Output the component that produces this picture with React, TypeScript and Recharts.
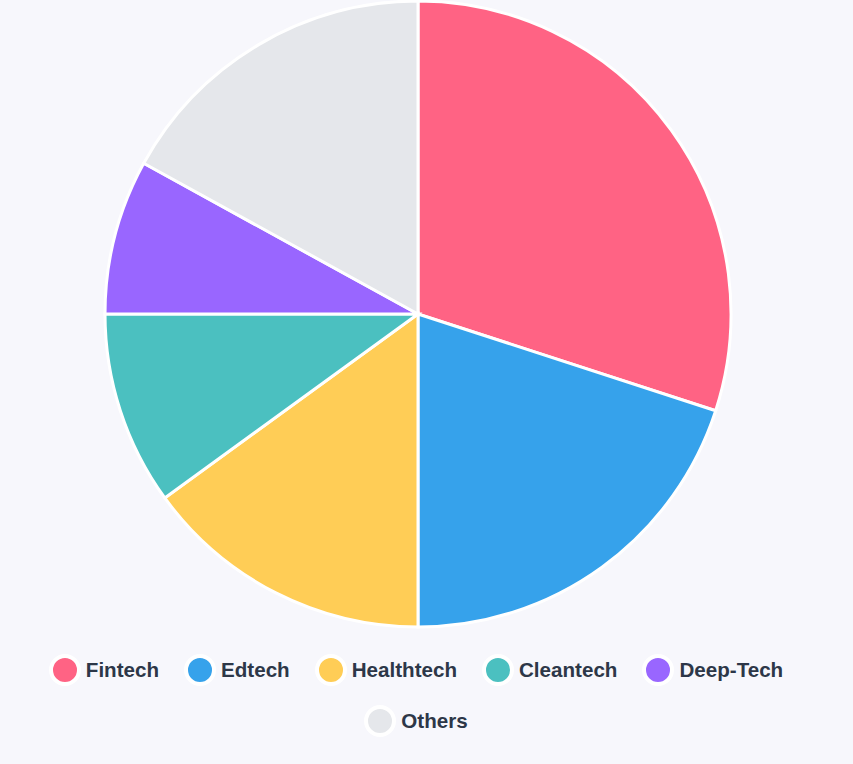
import React from "react";
import { PieChart, Pie, Cell, Legend } from "recharts";

const categories = ["Fintech", "Edtech", "Healthtech", "Cleantech", "Deep-Tech", "Others"];
const shares = [30, 20, 15, 10, 8, 17];
const colors = ["#ff6384", "#36a2eb", "#ffcd56", "#4bc0c0", "#9966ff", "#e5e7eb"];

const data = categories.map((name, i) => ({ name, value: shares[i] }));

const LegendContent = () => (
  <div
    style={{
      display: "flex",
      flexWrap: "wrap",
      justifyContent: "center",
      rowGap: 19,
      columnGap: 25,
      width: 780,
      fontFamily: "'Liberation Sans', Arial, sans-serif",
      fontWeight: 700,
      fontSize: 20.6,
      color: "#2d3748",
    }}
  >
    {categories.map((c, i) => (
      <div key={c} style={{ display: "flex", alignItems: "center", height: 32 }}>
        <span
          style={{
            display: "inline-block",
            boxSizing: "border-box",
            width: 32,
            height: 32,
            borderRadius: "50%",
            background: colors[i],
            border: "4px solid #ffffff",
            marginRight: 5,
          }}
        />
        <span style={{ lineHeight: "32px" }}>{c}</span>
      </div>
    ))}
  </div>
);

export default function App() {
  return (
    <div
      style={{
        position: "fixed",
        left: 0,
        top: 0,
        width: 853,
        height: 764,
        background: "#f7f7fc",
      }}
    >
      <PieChart width={853} height={764} margin={{ top: 0, right: 0, bottom: 0, left: 0 }}>
        <Pie
          data={data}
          dataKey="value"
          nameKey="name"
          cx={418}
          cy={314}
          outerRadius={313}
          startAngle={90}
          endAngle={-270}
          stroke="#ffffff"
          strokeWidth={3}
          isAnimationActive={false}
        >
          {data.map((d, i) => (
            <Cell key={d.name} fill={colors[i]} />
          ))}
        </Pie>
        <Legend
          content={<LegendContent />}
          wrapperStyle={{ top: 654, left: 26, width: 780, bottom: "auto" }}
        />
      </PieChart>
    </div>
  );
}
